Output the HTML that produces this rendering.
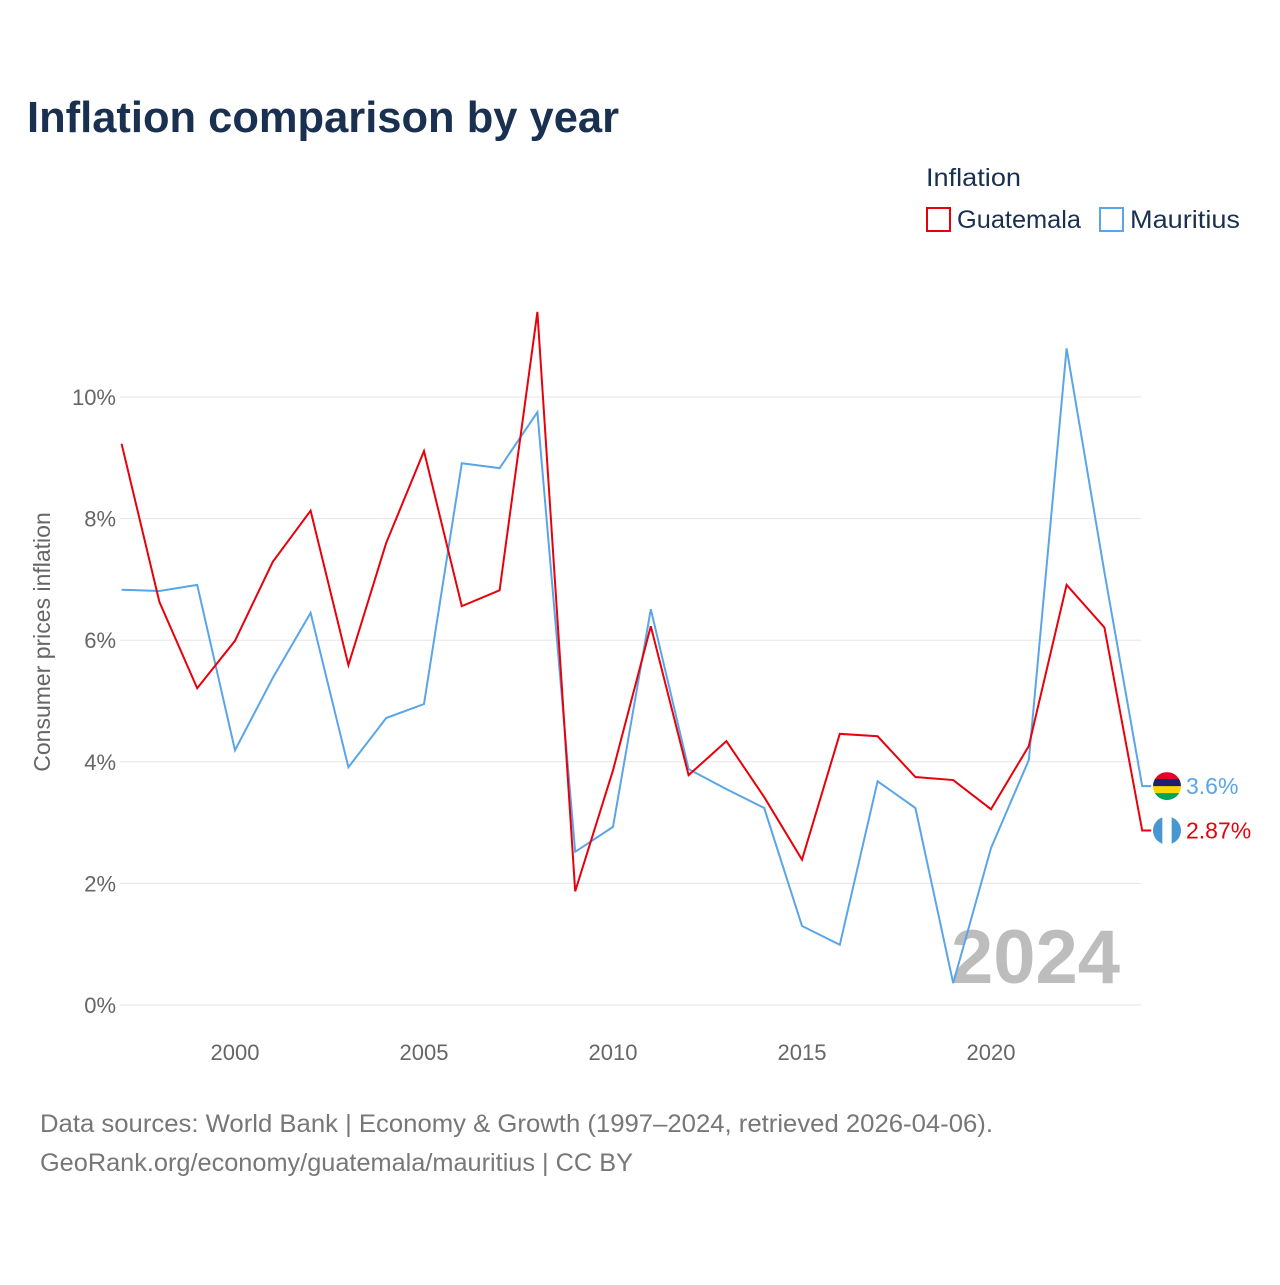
<!DOCTYPE html>
<html><head><meta charset="utf-8"><style>
body{margin:0;background:#fff;width:1280px;height:1280px;overflow:hidden;font-family:"Liberation Sans",sans-serif;}
</style></head><body>
<svg width="1280" height="1280">
<text x="27" y="132" font-size="44" font-weight="bold" fill="#1a3050" textLength="592" lengthAdjust="spacingAndGlyphs">Inflation comparison by year</text>
<text x="926" y="186" font-size="25" fill="#1a3050" textLength="95" lengthAdjust="spacingAndGlyphs">Inflation</text>
<g><rect x="927" y="208" width="23" height="23" fill="none" stroke="#e8000b" stroke-width="2"/><text x="957" y="228" font-size="25" fill="#1a3050" textLength="124" lengthAdjust="spacingAndGlyphs">Guatemala</text></g>
<g><rect x="1100" y="208" width="23" height="23" fill="none" stroke="#5aa5e8" stroke-width="2"/><text x="1130" y="228" font-size="25" fill="#1a3050" textLength="110" lengthAdjust="spacingAndGlyphs">Mauritius</text></g>
<g id="grid"></g><g id="xt"></g>
<text x="951" y="983" font-size="76" font-weight="bold" fill="#bdbdbd">2024</text>
<text transform="translate(50,642) rotate(-90)" text-anchor="middle" font-size="23" fill="#666">Consumer prices inflation</text>
<g id="lines"></g>
<text x="40" y="1132" font-size="25" fill="#777" textLength="953" lengthAdjust="spacingAndGlyphs">Data sources: World Bank | Economy &amp; Growth (1997–2024, retrieved 2026-04-06).</text>
<text x="40" y="1171" font-size="25" fill="#777" textLength="593" lengthAdjust="spacingAndGlyphs">GeoRank.org/economy/guatemala/mauritius | CC BY</text>
</svg>
<script>
const years=[1997,1998,1999,2000,2001,2002,2003,2004,2005,2006,2007,2008,2009,2010,2011,2012,2013,2014,2015,2016,2017,2018,2019,2020,2021,2022,2023,2024];
const guatemala=[9.23,6.63,5.21,5.99,7.29,8.13,5.59,7.60,9.11,6.56,6.82,11.40,1.87,3.86,6.23,3.78,4.34,3.42,2.39,4.46,4.42,3.75,3.70,3.22,4.26,6.91,6.21,2.87];
const mauritius=[6.83,6.81,6.91,4.19,5.38,6.45,3.91,4.72,4.95,8.91,8.83,9.75,2.52,2.93,6.51,3.88,3.55,3.24,1.30,0.99,3.68,3.24,0.36,2.58,4.03,10.8,7.12,3.6];
const yTicks=[0,2,4,6,8,10];
const xTicks=[2000,2005,2010,2015,2020];
const NS="http://www.w3.org/2000/svg";
const X=y=>235+(y-2000)*37.8, Y=v=>1005-v*60.8;
function mk(t,a,p){const e=document.createElementNS(NS,t);for(const k in a)e.setAttribute(k,a[k]);p.appendChild(e);return e;}
const g=document.getElementById('grid');
yTicks.forEach(v=>{
 const l=mk('line',{x1:120,x2:1141,y1:Y(v),y2:Y(v),stroke:'#e6e6e6','stroke-width':1},g);
 
 
 const t=mk('text',{x:116,y:Y(v)+8,'text-anchor':'end','font-size':22,fill:'#666'},g);
 t.textContent=v+'%';
 
 
});
const xt=document.getElementById('xt');
xTicks.forEach(v=>{
 const t=mk('text',{x:X(v),y:1060,'text-anchor':'middle','font-size':22,fill:'#666'},xt);
 t.textContent=v;
 
 
});
const L=document.getElementById('lines');
function series(vals,col,name,lab,stripes){
 let d=vals.map((v,i)=>(i?'L':'M')+X(years[i])+','+Y(v)).join(' ');
 const last=vals[vals.length-1];
 d+=' L'+(X(years[years.length-1])+9)+','+Y(last);
 const p=mk('path',{d:d,fill:'none',stroke:col,'stroke-width':2},L);
 
 
 const cy=Y(last);
 const fg=mk('g',{},L);
 
 
 const cp=mk('clipPath',{id:'cp-'+name},fg);
 mk('circle',{cx:1167,cy:cy,r:14},cp);
 stripes.forEach((s,i)=>{
  if(stripes.horizontal) mk('rect',{x:1153,y:cy-14+i*28/stripes.length,width:28,height:28/stripes.length+0.5,fill:s,'clip-path':'url(#cp-'+name+')'},fg);
  else mk('rect',{x:1153+i*28/stripes.length,y:cy-14,width:28/stripes.length+0.5,height:28,fill:s,'clip-path':'url(#cp-'+name+')'},fg);
 });
 const t=mk('text',{x:1186,y:cy+8,'font-size':23,fill:col},L);
 t.textContent=lab;
 
 
}
const mu=['#e4002b','#1a206d','#ffd500','#00a551'];mu.horizontal=true;
const gt=['#4997d0','#ffffff','#4997d0'];
series(mauritius,'#5aa5e8','mauritius','3.6%',mu);
series(guatemala,'#e8000b','guatemala','2.87%',gt);
</script>
</body></html>
